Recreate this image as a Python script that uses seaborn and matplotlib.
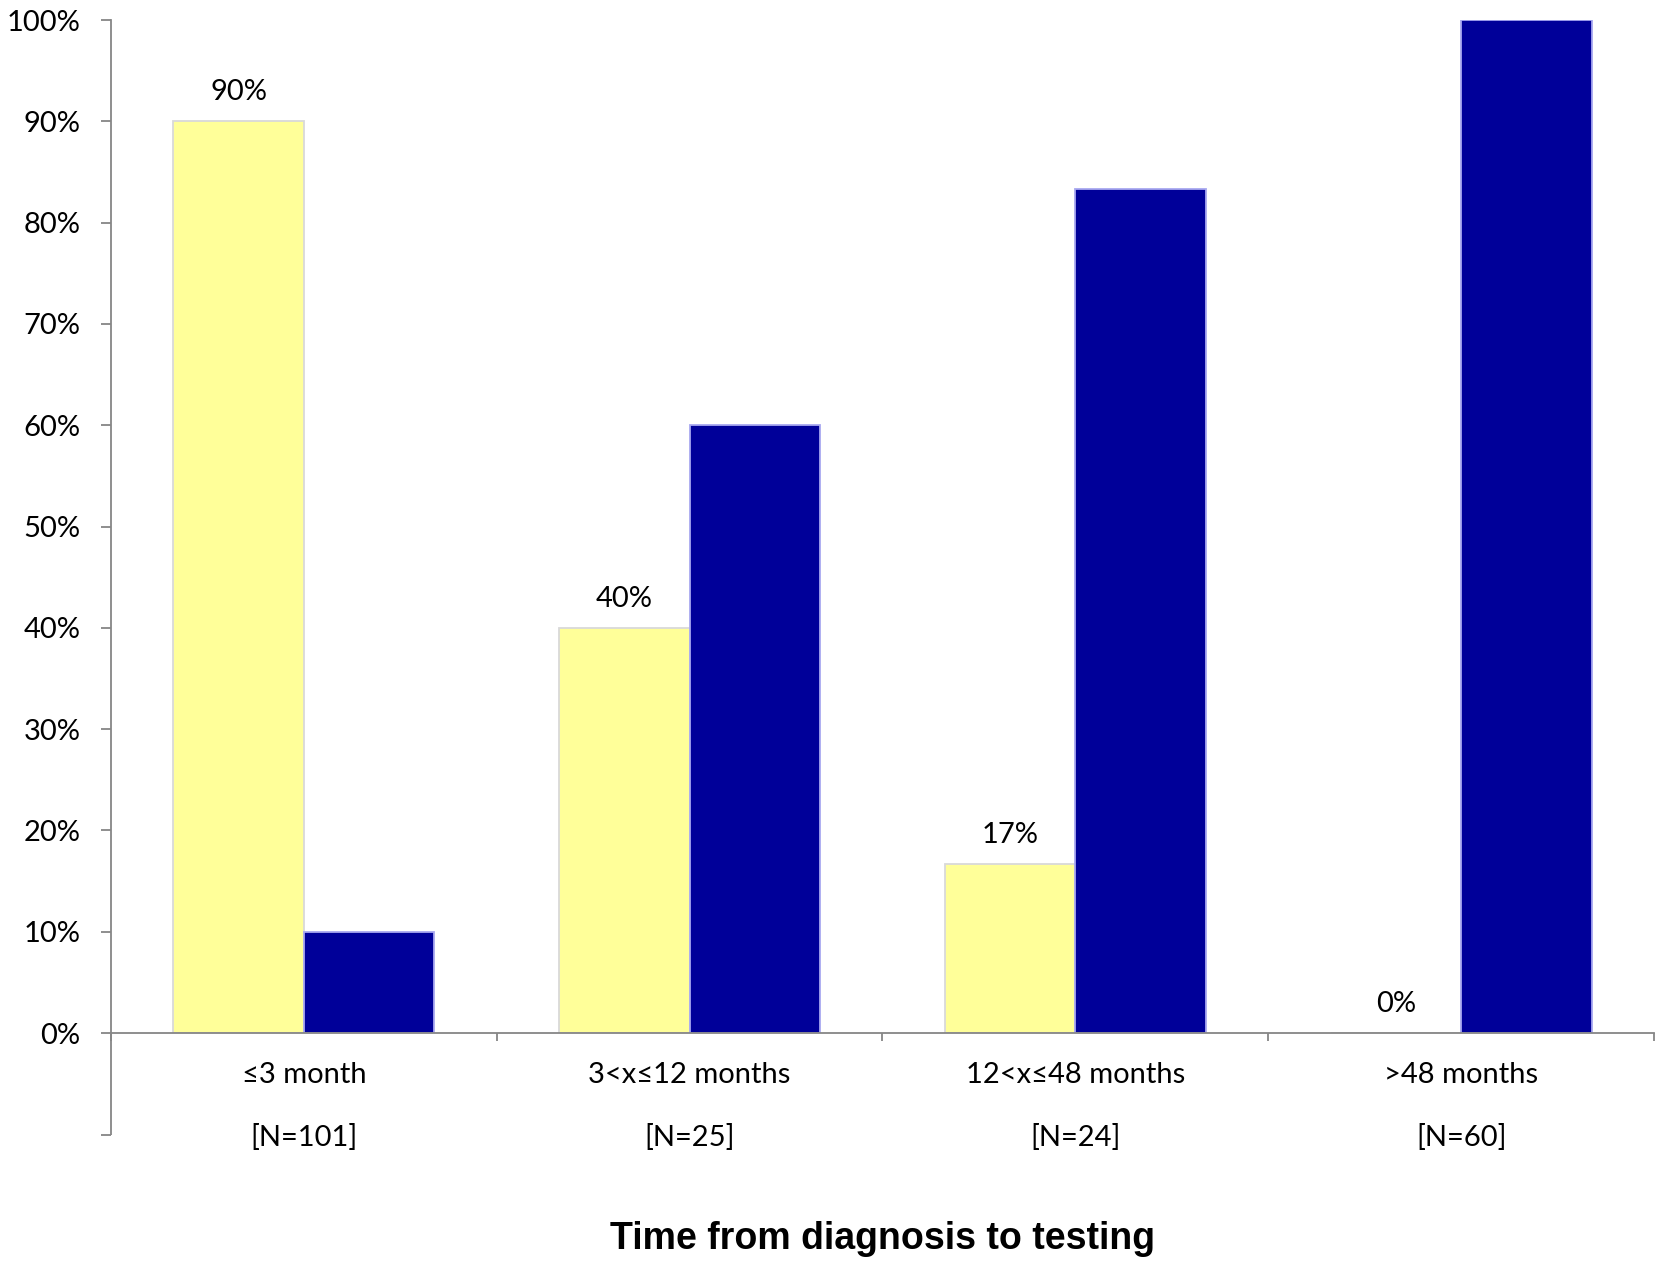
import matplotlib
matplotlib.use("Agg")
import matplotlib.pyplot as plt
import matplotlib.transforms as mtransforms
from matplotlib.ticker import FixedLocator, PercentFormatter
import pandas as pd
import seaborn as sns

# Data
categories = ["≤3 month", "3<x≤12 months", "12<x≤48 months", ">48 months"]
group_sizes = ["[N=101]", "[N=25]", "[N=24]", "[N=60]"]
series_names = ["Series A", "Series B"]
series_a = [90.0, 40.0, 16.67, 0.0]
series_b = [10.0, 60.0, 83.33, 100.0]
value_labels = ["90%", "40%", "17%", "0%"]

fill_colors = ["#FFFF99", "#000099"]
edge_colors = ["#D9D9D9", "#A8A8F0"]
axis_gray = "#868686"
FS = 21

sns.set_theme(style="white")
plt.rcParams["font.family"] = ["Lato", "DejaVu Sans"]

df = pd.DataFrame({
    "category": categories * 2,
    "series": [series_names[0]] * 4 + [series_names[1]] * 4,
    "value": series_a + series_b,
})

fig = plt.figure(figsize=(16.61, 12.61), dpi=100)
ax = fig.add_axes([0.0668, 0.1808, 0.9290, 0.8033])

sns.barplot(data=df, x="category", y="value", hue="series",
            order=categories, hue_order=series_names,
            palette=fill_colors, width=0.676, dodge=True,
            saturation=1, legend=False, ax=ax, errorbar=None)

# Bar outlines per series
for container, ec in zip(ax.containers, edge_colors):
    for bar in container:
        bar.set_edgecolor(ec)
        bar.set_linewidth(1.3)

# Value labels above the first series
for bar, lab in zip(ax.containers[0], value_labels):
    ax.annotate(lab, (bar.get_x() + bar.get_width() / 2, bar.get_height()),
                xytext=(0, 21), textcoords="offset points",
                ha="center", va="center", fontsize=FS, color="black")

ax.set_ylim(0, 100)
ax.set_xlim(-0.5, len(categories) - 0.5)
ax.yaxis.set_major_locator(FixedLocator(list(range(0, 101, 10))))
ax.yaxis.set_major_formatter(PercentFormatter(decimals=0))
ax.tick_params(axis="y", labelsize=FS, length=7, width=1.3, color=axis_gray,
               pad=15, labelcolor="black", left=True)

# Category separators as ticks, labels drawn as text below
ax.set_xticks([i - 0.5 for i in range(len(categories) + 1)])
ax.set_xticklabels([])
ax.tick_params(axis="x", length=6, width=1.3, color=axis_gray, bottom=True,
               direction="out")
ax.set_xlabel("")
ax.set_ylabel("")

for side in ["top", "right"]:
    ax.spines[side].set_visible(False)
for side in ["left", "bottom"]:
    ax.spines[side].set_color(axis_gray)
    ax.spines[side].set_linewidth(1.3)

blend = mtransforms.blended_transform_factory(ax.transData, ax.transAxes)
for i, (cat, n) in enumerate(zip(categories, group_sizes)):
    ax.text(i, -0.0415, cat, transform=blend, ha="center", va="center",
            fontsize=FS, color="black")
    ax.text(i, -0.1027, n, transform=blend, ha="center", va="center",
            fontsize=FS, color="black")

# Left axis line continues down past the category labels
ax.plot([0, 0], [0, -0.1007], transform=ax.transAxes, color=axis_gray,
        lw=1.3, clip_on=False, solid_capstyle="butt")
ax.plot([-0.0065, 0], [-0.1007, -0.1007], transform=ax.transAxes,
        color=axis_gray, lw=1.3, clip_on=False, solid_capstyle="butt")

fig.text(0.5312, 0.0174, "Time from diagnosis to testing",
         ha="center", va="center", fontsize=27, fontweight="bold",
         family=["Liberation Sans", "DejaVu Sans"], color="black")

fig.savefig("out.png", dpi=100, facecolor="white")
